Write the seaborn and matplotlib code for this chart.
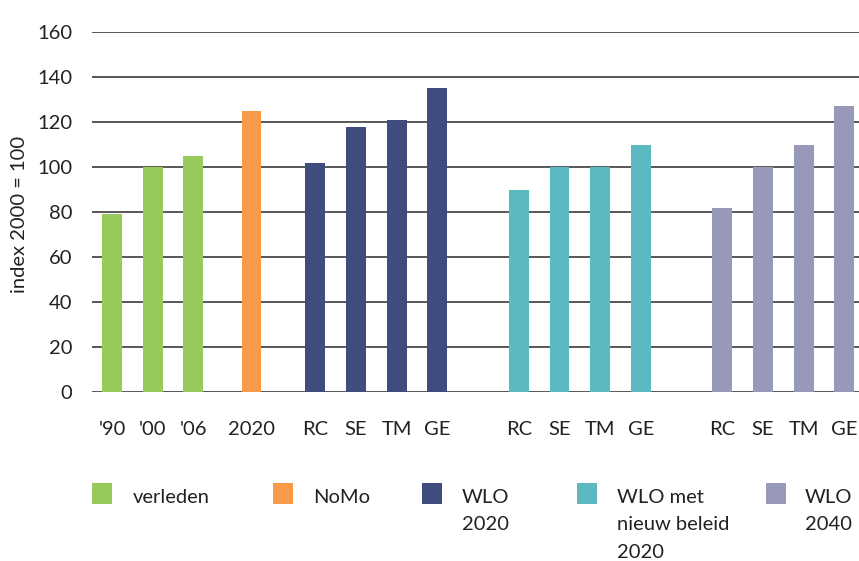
import matplotlib
matplotlib.use("Agg")
import matplotlib.pyplot as plt
from matplotlib.patches import Rectangle
import seaborn as sns
import pandas as pd

# Index values (2000 = 100)
tick_labels = ["'90", "'00", "'06", "2020",
               "RC", "SE", "TM", "GE",
               "RC", "SE", "TM", "GE",
               "RC", "SE", "TM", "GE"]
groups = ["verleden"] * 3 + ["NoMo"] + ["WLO 2020"] * 4 \
    + ["WLO met nieuw beleid 2020"] * 4 + ["WLO 2040"] * 4
values = [79, 100, 105, 125,
          102, 118, 121, 135,
          90, 100, 100, 110,
          82, 100, 110, 127]
legend_labels = ["verleden", "NoMo", "WLO\n2020", "WLO met\nnieuw beleid\n2020", "WLO\n2040"]
group_names = ["verleden", "NoMo", "WLO 2020", "WLO met nieuw beleid 2020", "WLO 2040"]
colors = ["#97c95c", "#f89a48", "#404c7e", "#5cb9c2", "#9898b8"]

# bar slots, with gaps between the groups
positions = [0, 1, 2, 3.43, 5, 6, 7, 8, 10, 11, 12, 13, 15, 16, 17, 18]

df = pd.DataFrame({"pos": positions, "value": values, "group": groups})
palette = dict(zip(group_names, colors))

sns.set_theme(style="white")
plt.rcParams["font.family"] = ["Lato", "DejaVu Sans"]

W, H = 859, 561
fig = plt.figure(figsize=(W / 100, H / 100), dpi=100)
ax_left, ax_right, ax_top, ax_bottom = 92, 859, 32.3, 391.7
ax = fig.add_axes([ax_left / W, 1 - ax_bottom / H,
                   (ax_right - ax_left) / W, (ax_bottom - ax_top) / H])

sns.barplot(data=df, x="pos", y="value", hue="group", palette=palette,
            native_scale=True, dodge=False, width=0.49, legend=False,
            saturation=1, ax=ax, linewidth=0)

ax.set_xlim(-0.49, 18.36)
ax.set_ylim(0, 160)
ax.set_yticks(range(0, 161, 20))
ax.set_xticks(positions)
ax.set_xticklabels(tick_labels)
ax.set_xlabel("")
ax.set_ylabel("")
ax.set_axisbelow(True)
ax.grid(axis="y", color="#4a4a4a", linewidth=1.3)
ax.grid(axis="x", visible=False)
for s in ax.spines.values():
    s.set_visible(False)
ax.tick_params(axis="y", length=0, pad=14, labelsize=14.5, labelcolor="#222222")
ax.tick_params(axis="x", length=0, pad=21, labelsize=14.5, labelcolor="#222222")

fig.text(20 / W, 1 - 214 / H, "index 2000 = 100", rotation=90,
         ha="center", va="center", fontsize=14.5, color="#222222")

# legend row below the chart
patch_x = [92, 273, 422, 577, 766]
text_x = [133, 313, 462, 617, 805]
for px, tx, col, lab in zip(patch_x, text_x, colors, legend_labels):
    fig.add_artist(Rectangle((px / W, 1 - 504 / H), 20 / W, 21 / H,
                             transform=fig.transFigure, color=col, linewidth=0))
    fig.text(tx / W, 1 - 489 / H, lab, ha="left", va="top", fontsize=14.5,
             color="#222222", linespacing=1.75)

fig.savefig("out.png", dpi=100)
